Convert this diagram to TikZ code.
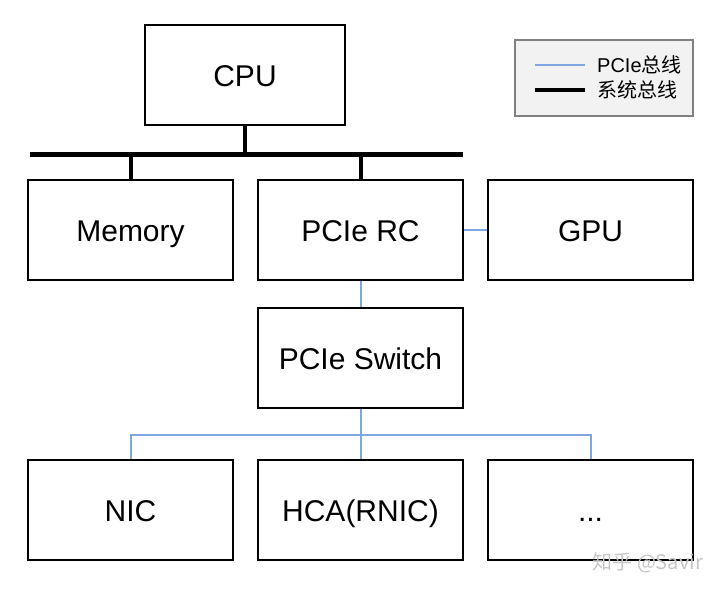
\documentclass[tikz,border=0pt]{standalone}
\usepackage{fontspec}
\setmainfont{Liberation Sans}
\newfontfamily\cjk{Noto Sans CJK SC}
\definecolor{pciblue}{RGB}{126,166,224}
\definecolor{legendgray}{RGB}{242,242,242}
\begin{document}
\begin{tikzpicture}[x=1pt,y=-1pt,
  unit/.style={draw, line width=2pt, minimum width=205pt, minimum height=100pt,
    text height=23pt, text depth=0pt, font=\fontsize{30}{34}\selectfont},
  sysbus/.style={line width=5pt},
  stem/.style={line width=4pt},
  pcie/.style={pciblue, line width=2pt}]
\useasboundingbox (0,0) rectangle (720,590);
\node[unit, minimum width=200pt] (CPU) at (245,75) {CPU};
\node[unit] (Mem) at (130.5,230) {Memory};
\node[unit] (RC) at (360.5,230) {PCIe RC};
\node[unit] (GPU) at (590.5,230) {GPU};
\node[unit] (Switch) at (360.5,358) {PCIe Switch};
\node[unit] (NIC) at (130.5,510) {NIC};
\node[unit] (HCA) at (360.5,510) {HCA(RNIC)};
\node[unit] (More) at (590.5,510) {...};
% system bus
\coordinate (busL) at (30,154);
\coordinate (busR) at (463,154);
\draw[sysbus] (busL) -- (busR);
\draw[stem] (CPU.south) -- (CPU.south |- busL);
\draw[stem] (Mem.north) -- (Mem.north |- busL);
\draw[stem] (RC.north) -- (RC.north |- busL);
% pcie links
\coordinate (split) at (360.5,435);
\draw[pcie] (RC.east) -- (GPU.west);
\draw[pcie] (RC.south) -- (Switch.north);
\draw[pcie] (Switch.south) -- (HCA.north);
\draw[pcie] (NIC.north) -- (NIC.north |- split) -- (More.north |- split) -- (More.north);
% legend
\node[draw=gray, line width=2pt, fill=legendgray, minimum width=178pt, minimum height=76pt] (legend) at (604,78) {};
\coordinate (pciA) at (535,65);
\coordinate (pciB) at (585,65);
\coordinate (sysA) at (535,90);
\coordinate (sysB) at (585,90);
\draw[pcie] (pciA) -- (pciB);
\draw[line width=4pt] (sysA) -- (sysB);
\node[anchor=west, inner sep=0pt, font=\fontsize{20}{22}\selectfont] (pciText) at (597,65) {PCIe{\cjk 总线}};
\node[anchor=west, inner sep=0pt, font=\fontsize{20}{22}\selectfont\cjk] (sysText) at (597,90) {系统总线};
% watermark
\node[anchor=east, inner sep=0pt, text=gray!45, font=\fontsize{20}{22}\selectfont\cjk] (mark) at (703,563) {知乎 @Savir};
\end{tikzpicture}
\end{document}
